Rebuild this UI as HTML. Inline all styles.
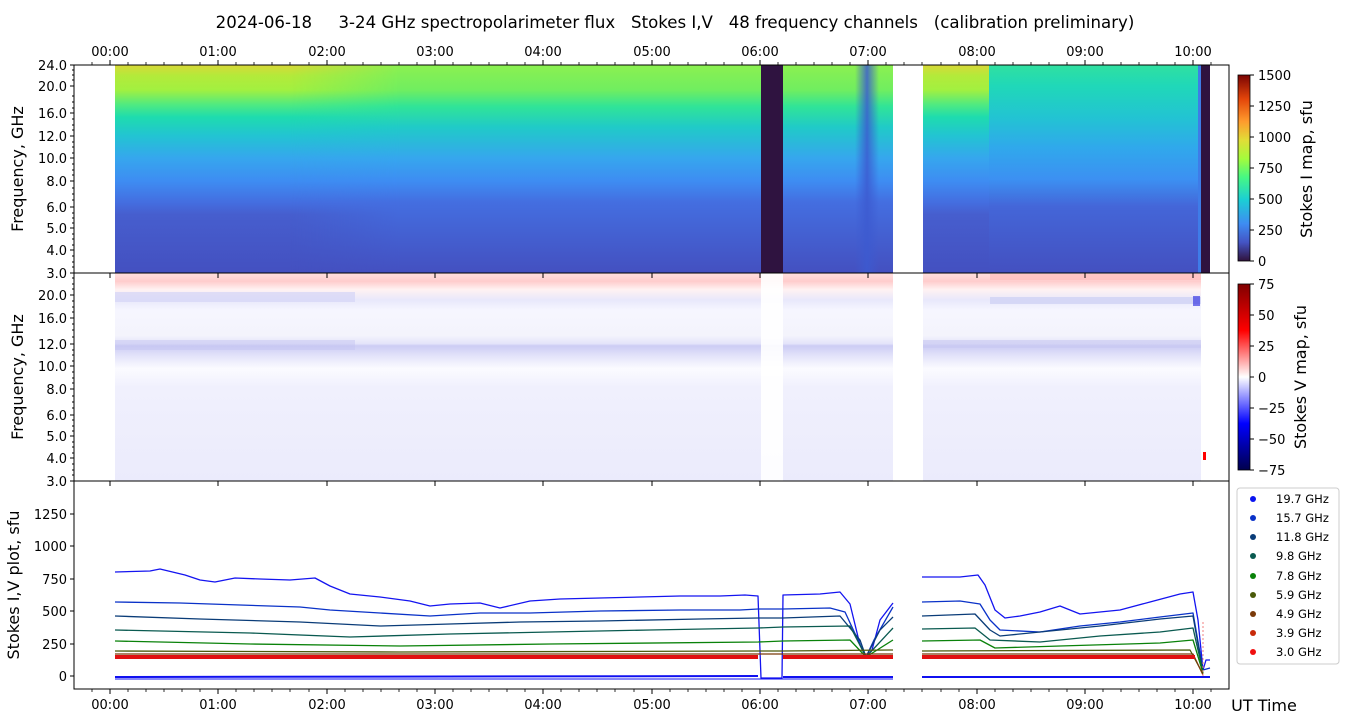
<!DOCTYPE html>
<html><head><meta charset="utf-8"><style>
body{margin:0;background:#fff;}
svg{display:block;font-family:"DejaVu Sans","Liberation Sans",sans-serif;}
</style></head><body>
<svg width="1350" height="725" viewBox="0 0 1350 725" xmlns="http://www.w3.org/2000/svg">
<defs>
<linearGradient id="gI" x1="0" y1="65" x2="0" y2="273" gradientUnits="userSpaceOnUse">
<stop offset="0" stop-color="#d8d838"/><stop offset="0.05" stop-color="#b4ea3a"/>
<stop offset="0.12" stop-color="#a2f040"/><stop offset="0.19" stop-color="#50ea80"/>
<stop offset="0.25" stop-color="#1edcae"/><stop offset="0.34" stop-color="#22c4d2"/>
<stop offset="0.45" stop-color="#36a6ee"/><stop offset="0.56" stop-color="#3e8cf2"/>
<stop offset="0.66" stop-color="#446ee0"/><stop offset="0.72" stop-color="#465ece"/>
<stop offset="1" stop-color="#4450c0"/></linearGradient>
<linearGradient id="gI2" x1="0" y1="65" x2="0" y2="273" gradientUnits="userSpaceOnUse">
<stop offset="0" stop-color="#8cf050"/><stop offset="0.12" stop-color="#70ee60"/>
<stop offset="0.2" stop-color="#30e498"/><stop offset="0.3" stop-color="#20cac8"/>
<stop offset="0.45" stop-color="#36a6ee"/><stop offset="0.56" stop-color="#3e8cf2"/>
<stop offset="0.66" stop-color="#446ee0"/><stop offset="1" stop-color="#4450c0"/></linearGradient>
<linearGradient id="gI3" x1="0" y1="65" x2="0" y2="273" gradientUnits="userSpaceOnUse">
<stop offset="0" stop-color="#30e0a0"/><stop offset="0.1" stop-color="#20d8b8"/>
<stop offset="0.25" stop-color="#22c4d2"/><stop offset="0.4" stop-color="#30a8ec"/>
<stop offset="0.55" stop-color="#3c90f2"/><stop offset="0.68" stop-color="#4466d8"/>
<stop offset="1" stop-color="#4450c0"/></linearGradient>
<linearGradient id="fadeIn" x1="0" y1="0" x2="1" y2="0">
<stop offset="0" stop-color="#fff" stop-opacity="0"/><stop offset="1" stop-color="#fff" stop-opacity="1"/></linearGradient>
<mask id="mFade" maskUnits="userSpaceOnUse" x="0" y="0" width="1350" height="725">
<rect x="290" y="60" width="110" height="220" fill="url(#fadeIn)"/>
<rect x="400" y="60" width="400" height="220" fill="#fff"/></mask>
<linearGradient id="streak" x1="0" y1="0" x2="1" y2="0">
<stop offset="0" stop-color="#3c5ad0" stop-opacity="0"/><stop offset="0.5" stop-color="#3c5ad0" stop-opacity="0.85"/><stop offset="1" stop-color="#3c5ad0" stop-opacity="0"/></linearGradient>
<linearGradient id="cbI" x1="0" y1="1" x2="0" y2="0">
<stop offset="0" stop-color="#30123b"/><stop offset="0.1" stop-color="#4454c4"/>
<stop offset="0.2" stop-color="#3e8cf2"/><stop offset="0.33" stop-color="#1bcfd4"/>
<stop offset="0.45" stop-color="#46f884"/><stop offset="0.55" stop-color="#a4fc3c"/>
<stop offset="0.65" stop-color="#e1dd37"/><stop offset="0.75" stop-color="#fe9b2d"/>
<stop offset="0.87" stop-color="#e4460a"/><stop offset="1" stop-color="#7a0403"/></linearGradient>
<linearGradient id="cbV" x1="0" y1="1" x2="0" y2="0">
<stop offset="0" stop-color="#00004c"/><stop offset="0.25" stop-color="#0000ff"/>
<stop offset="0.5" stop-color="#ffffff"/><stop offset="0.75" stop-color="#ff0000"/>
<stop offset="1" stop-color="#800000"/></linearGradient>
<linearGradient id="gV" x1="0" y1="273" x2="0" y2="481" gradientUnits="userSpaceOnUse">
<stop offset="0" stop-color="#ffe0e0"/><stop offset="0.04" stop-color="#ffcccc"/>
<stop offset="0.08" stop-color="#fff2f2"/><stop offset="0.13" stop-color="#e8e8fb"/>
<stop offset="0.18" stop-color="#f6f6ff"/><stop offset="0.3" stop-color="#f4f4fc"/>
<stop offset="0.34" stop-color="#e4e4fa"/><stop offset="0.35" stop-color="#ccccf4"/>
<stop offset="0.4" stop-color="#e4e4fa"/><stop offset="0.46" stop-color="#fbfbff"/>
<stop offset="0.55" stop-color="#f0f0fd"/><stop offset="1" stop-color="#ebebfc"/></linearGradient>
</defs>

<text x="675" y="28" font-size="16.6" text-anchor="middle" fill="#000" xml:space="preserve">2024-06-18     3-24 GHz spectropolarimeter flux   Stokes I,V   48 frequency channels   (calibration preliminary)</text>

<!-- Top panel -->
<rect x="115" y="65" width="646" height="208" fill="url(#gI)"/>
<rect x="290" y="65" width="471" height="208" fill="url(#gI2)" mask="url(#mFade)"/>
<rect x="761" y="65" width="22" height="208" fill="#2f1340"/>
<rect x="783" y="65" width="110" height="208" fill="url(#gI2)"/>
<rect x="855" y="65" width="24" height="208" fill="url(#streak)"/>
<rect x="923" y="65" width="66" height="208" fill="url(#gI)"/>
<rect x="989" y="65" width="210" height="208" fill="url(#gI3)"/>
<rect x="1198" y="65" width="4" height="208" fill="#3e7ce8"/>
<rect x="1201" y="65" width="9" height="208" fill="#2f1340"/>
<rect x="74" y="65" width="1155" height="208" fill="none" stroke="#000" stroke-width="1"/>

<!-- Middle panel -->
<rect x="115" y="273" width="1086" height="208" fill="url(#gV)"/>
<rect x="115" y="292" width="240" height="10" fill="#d4d4f6" opacity="0.7"/>
<rect x="115" y="340" width="240" height="10" fill="#c4c4f2" opacity="0.5"/>
<rect x="922" y="340" width="279" height="8" fill="#c8c8f2" opacity="0.6"/>
<rect x="990" y="297" width="211" height="7" fill="#cccff4" opacity="0.7"/>
<rect x="990" y="274" width="211" height="6" fill="#ffbcbc" opacity="0.7"/>
<rect x="1193" y="296" width="7" height="10" fill="#2020e0" opacity="0.6"/>
<rect x="1203" y="452" width="3" height="8" fill="#f00"/>
<rect x="761" y="273" width="22" height="208" fill="#fff" opacity="0.9"/>
<rect x="893" y="273" width="30" height="208" fill="#fff"/>
<rect x="74" y="273" width="1155" height="208" fill="none" stroke="#000"/>

<!-- Bottom panel -->
<rect x="74" y="481" width="1155" height="208" fill="none" stroke="#000"/>
<g fill="none" stroke-width="1.3" stroke-linejoin="round">
<polyline stroke="#1414f0" points="115,572 150,571 160,569 185,575 200,580 215,582 235,578 260,579 290,580 315,578 330,586 350,594 380,597 410,601 430,606 450,604 480,603 500,608 530,601 560,599 600,598 640,597 680,596 720,596 745,595 758,596 761,678 782,678 783,595 820,594 840,592 850,604 860,645 866,657 872,650 880,620 893,603"/>
<polyline stroke="#1414f0" points="922,577 940,577 960,577 978,575 985,585 995,610 1005,618 1020,616 1040,612 1060,606 1080,614 1100,612 1120,610 1150,602 1180,594 1193,592 1198,620 1203,670 1206,660 1210,660"/>
<polyline stroke="#0a32c8" points="115,602 180,603 240,605 300,607 330,610 380,613 430,616 480,613 530,613 600,611 680,610 740,610 758,609 783,609 830,608 845,612 858,640 866,657 874,640 893,607"/>
<polyline stroke="#0a32c8" points="922,602 960,601 980,604 990,620 1000,630 1040,632 1080,626 1120,622 1160,617 1193,613 1203,670 1210,668"/>
<polyline stroke="#0a3c78" points="115,616 200,619 300,622 380,626 450,624 520,622 600,621 700,619 758,618 783,618 840,616 860,640 866,657 880,630 893,617"/>
<polyline stroke="#0a3c78" points="922,616 975,614 990,630 1000,636 1040,632 1100,626 1160,619 1193,616 1203,672"/>
<polyline stroke="#0a5a50" points="115,630 250,633 350,637 450,634 550,632 650,630 758,628 783,627 850,626 866,657 893,628"/>
<polyline stroke="#0a5a50" points="922,629 975,628 990,640 1040,642 1100,636 1160,632 1193,628 1203,672"/>
<polyline stroke="#0a820a" points="115,641 250,644 400,646 550,644 758,642 783,641 850,640 866,657 893,640"/>
<polyline stroke="#0a820a" points="922,641 980,640 995,648 1060,646 1160,643 1193,640 1203,673"/>
<polyline stroke="#4a5a0a" points="115,651 400,652 758,651 783,651 893,650"/>
<polyline stroke="#4a5a0a" points="922,651 1190,650 1203,674"/>
<polyline stroke="#7a3a0a" points="115,654 758,654 783,654 893,654"/>
<polyline stroke="#7a3a0a" points="922,654 1193,654 1203,675"/>
</g>
<g stroke="#e01010" stroke-width="4">
<line x1="115" y1="657" x2="758" y2="657"/><line x1="783" y1="657" x2="893" y2="657"/><line x1="922" y1="657" x2="1195" y2="657"/>
</g>
<g stroke="#1010f0" stroke-width="2">
<line x1="115" y1="677" x2="758" y2="676"/><line x1="783" y1="677" x2="893" y2="677"/><line x1="922" y1="677" x2="1210" y2="677"/>
<line x1="115" y1="679" x2="893" y2="679" stroke-width="1"/>
</g>
<line x1="1203" y1="622" x2="1203" y2="676" stroke="#f08080" stroke-dasharray="2,2"/>

<!-- Y axes -->
<g font-size="13" fill="#000" text-anchor="end">
<text x="67" y="70">24.0</text><text x="67" y="91">20.0</text><text x="67" y="118">16.0</text>
<text x="67" y="141">12.0</text><text x="67" y="163">10.0</text><text x="67" y="186">8.0</text>
<text x="67" y="212">6.0</text><text x="67" y="233">5.0</text><text x="67" y="255">4.0</text>
<text x="67" y="278">3.0</text>
<text x="67" y="300">20.0</text><text x="67" y="323">16.0</text><text x="67" y="349">12.0</text>
<text x="67" y="371">10.0</text><text x="67" y="394">8.0</text><text x="67" y="420">6.0</text>
<text x="67" y="441">5.0</text><text x="67" y="463">4.0</text><text x="67" y="486">3.0</text>
<text x="67" y="519">1250</text><text x="67" y="551">1000</text><text x="67" y="584">750</text>
<text x="67" y="616">500</text><text x="67" y="649">250</text><text x="67" y="681">0</text>
</g>
<g stroke="#000">
<path d="M70 65h4M70 86h4M70 113h4M70 136h4M70 158h4M70 181h4M70 207h4M70 228h4M70 250h4M70 273h4M70 295h4M70 318h4M70 344h4M70 366h4M70 389h4M70 415h4M70 436h4M70 458h4M70 481h4M70 514h4M70 546h4M70 579h4M70 611h4M70 644h4M70 676h4"/>
<path d="M72 70h2M72 75h2M72 80h2M72 96h2M72 102h2M72 108h2M72 119h2M72 125h2M72 130h2M72 142h2M72 147h2M72 153h2M72 164h2M72 170h2M72 175h2M72 188h2M72 194h2M72 200h2M72 213h2M72 218h2M72 223h2M72 234h2M72 239h2M72 245h2M72 256h2M72 262h2M72 267h2"/>
<path d="M72 278h2M72 284h2M72 289h2M72 301h2M72 307h2M72 312h2M72 324h2M72 330h2M72 337h2M72 350h2M72 355h2M72 361h2M72 372h2M72 378h2M72 383h2M72 396h2M72 402h2M72 408h2M72 420h2M72 426h2M72 431h2M72 442h2M72 447h2M72 453h2M72 464h2M72 470h2M72 475h2"/>
</g>
<g font-size="16" fill="#000" text-anchor="middle">
<text transform="translate(23,169) rotate(-90)">Frequency, GHz</text>
<text transform="translate(23,377) rotate(-90)">Frequency, GHz</text>
<text transform="translate(19,585) rotate(-90)">Stokes I,V plot, sfu</text>
<text x="1264" y="711">UT Time</text>
</g>

<!-- X ticks -->
<g stroke="#000">
<path d="M110 65v-5M218 65v-5M327 65v-5M435 65v-5M543 65v-5M652 65v-5M760 65v-5M868 65v-5M977 65v-5M1085 65v-5M1193 65v-5"/>
<path d="M110 273v5M218 273v5M327 273v5M435 273v5M543 273v5M652 273v5M760 273v5M868 273v5M977 273v5M1085 273v5M1193 273v5"/>
<path d="M110 481v5M218 481v5M327 481v5M435 481v5M543 481v5M652 481v5M760 481v5M868 481v5M977 481v5M1085 481v5M1193 481v5"/>
<path d="M110 689v5M218 689v5M327 689v5M435 689v5M543 689v5M652 689v5M760 689v5M868 689v5M977 689v5M1085 689v5M1193 689v5"/>
<path stroke-width="0.8" d="M92 65v-3M128 65v-3M146 65v-3M164 65v-3M182 65v-3M200 65v-3M236 65v-3M254 65v-3M272 65v-3M290 65v-3M309 65v-3M345 65v-3M363 65v-3M381 65v-3M399 65v-3M417 65v-3M453 65v-3M471 65v-3M489 65v-3M507 65v-3M525 65v-3M561 65v-3M579 65v-3M597 65v-3M615 65v-3M634 65v-3M670 65v-3M688 65v-3M706 65v-3M724 65v-3M742 65v-3M778 65v-3M796 65v-3M814 65v-3M832 65v-3M850 65v-3M886 65v-3M904 65v-3M922 65v-3M941 65v-3M959 65v-3M995 65v-3M1013 65v-3M1031 65v-3M1049 65v-3M1067 65v-3M1103 65v-3M1121 65v-3M1139 65v-3M1157 65v-3M1175 65v-3M1211 65v-3"/>
<path stroke-width="0.8" d="M92 689v3M128 689v3M146 689v3M164 689v3M182 689v3M200 689v3M236 689v3M254 689v3M272 689v3M290 689v3M309 689v3M345 689v3M363 689v3M381 689v3M399 689v3M417 689v3M453 689v3M471 689v3M489 689v3M507 689v3M525 689v3M561 689v3M579 689v3M597 689v3M615 689v3M634 689v3M670 689v3M688 689v3M706 689v3M724 689v3M742 689v3M778 689v3M796 689v3M814 689v3M832 689v3M850 689v3M886 689v3M904 689v3M922 689v3M941 689v3M959 689v3M995 689v3M1013 689v3M1031 689v3M1049 689v3M1067 689v3M1103 689v3M1121 689v3M1139 689v3M1157 689v3M1175 689v3M1211 689v3"/>
</g>
<g font-size="13" fill="#000" text-anchor="middle">
<text x="110" y="56">00:00</text><text x="218" y="56">01:00</text><text x="327" y="56">02:00</text><text x="435" y="56">03:00</text><text x="543" y="56">04:00</text><text x="652" y="56">05:00</text><text x="760" y="56">06:00</text><text x="868" y="56">07:00</text><text x="977" y="56">08:00</text><text x="1085" y="56">09:00</text><text x="1193" y="56">10:00</text>
<text x="110" y="709">00:00</text><text x="218" y="709">01:00</text><text x="327" y="709">02:00</text><text x="435" y="709">03:00</text><text x="543" y="709">04:00</text><text x="652" y="709">05:00</text><text x="760" y="709">06:00</text><text x="868" y="709">07:00</text><text x="977" y="709">08:00</text><text x="1085" y="709">09:00</text><text x="1193" y="709">10:00</text>
</g>

<!-- Colorbars -->
<rect x="1238" y="75" width="12" height="186" fill="url(#cbI)" stroke="#000" stroke-width="0.8"/>
<rect x="1238" y="284" width="12" height="186" fill="url(#cbV)" stroke="#000" stroke-width="0.8"/>
<g stroke="#000"><path d="M1250 75h4M1250 106h4M1250 137h4M1250 168h4M1250 199h4M1250 230h4M1250 261h4M1250 284h4M1250 315h4M1250 346h4M1250 377h4M1250 408h4M1250 439h4M1250 470h4"/></g>
<g font-size="13" fill="#000">
<text x="1258" y="80">1500</text><text x="1258" y="111">1250</text><text x="1258" y="142">1000</text><text x="1258" y="173">750</text><text x="1258" y="204">500</text><text x="1258" y="235">250</text><text x="1258" y="266">0</text>
<text x="1258" y="289">75</text><text x="1258" y="320">50</text><text x="1258" y="351">25</text><text x="1258" y="382">0</text><text x="1258" y="413">−25</text><text x="1258" y="444">−50</text><text x="1258" y="475">−75</text>
</g>
<g font-size="16" fill="#000" text-anchor="middle">
<text transform="translate(1312,169) rotate(-90)">Stokes I map, sfu</text>
<text transform="translate(1306,377) rotate(-90)">Stokes V map, sfu</text>
</g>

<!-- Legend -->
<rect x="1237" y="488" width="102" height="176" rx="3" fill="#fff" stroke="#ccc"/>
<g font-size="11.5" fill="#000">
<circle cx="1253" cy="499" r="3" fill="#0a14f0"/><text x="1276" y="503">19.7 GHz</text>
<circle cx="1253" cy="518" r="3" fill="#0a32c8"/><text x="1276" y="522">15.7 GHz</text>
<circle cx="1253" cy="537" r="3" fill="#0a3c78"/><text x="1276" y="541">11.8 GHz</text>
<circle cx="1253" cy="556" r="3" fill="#0a5a50"/><text x="1276" y="560">9.8 GHz</text>
<circle cx="1253" cy="576" r="3" fill="#0a820a"/><text x="1276" y="580">7.8 GHz</text>
<circle cx="1253" cy="595" r="3" fill="#4a5a0a"/><text x="1276" y="599">5.9 GHz</text>
<circle cx="1253" cy="614" r="3" fill="#7a3a0a"/><text x="1276" y="618">4.9 GHz</text>
<circle cx="1253" cy="633" r="3" fill="#c82a0a"/><text x="1276" y="637">3.9 GHz</text>
<circle cx="1253" cy="652" r="3" fill="#f01010"/><text x="1276" y="656">3.0 GHz</text>
</g>
</svg>
</body></html>
